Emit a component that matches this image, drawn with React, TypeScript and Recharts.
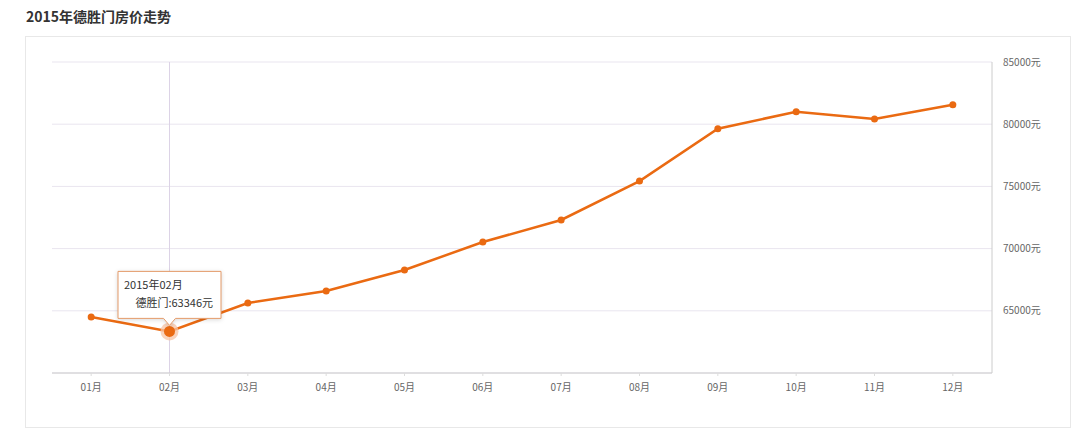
import { CartesianGrid, Line, LineChart, ReferenceLine, XAxis, YAxis } from "recharts";

const YEAR = "2015";
const AREA = "德胜门";
const months = ["01月", "02月", "03月", "04月", "05月", "06月", "07月", "08月", "09月", "10月", "11月", "12月"];
const prices = [64500, 63346, 65630, 66590, 68280, 70530, 72300, 75430, 79640, 81000, 80420, 81570];
const yTicks = [65000, 70000, 75000, 80000, 85000];
const yDomain = [60000, 85000];
const highlightMonth = "02月";

const ORANGE = "#ea6a12";
const FONT = '"Noto Sans CJK SC", "Open Sans", sans-serif';

const chartData = months.map((m, i) => ({ month: m, price: prices[i] }));

function PriceDot(props: any) {
  const { cx, cy, payload, index } = props;
  if (cx == null || cy == null) return null;
  if (payload.month !== highlightMonth) {
    return <circle key={`dot-${index}`} cx={cx} cy={cy} r={3.5} fill={ORANGE} />;
  }
  // tooltip box sits above the highlighted point
  const w = 103;
  const h = 47;
  const x0 = cx - w / 2;
  const x1 = cx + w / 2;
  const y1 = cy - 13;
  const y0 = y1 - h;
  const box = `M${x0},${y0} H${x1} V${y1} H${cx + 6} L${cx},${y1 + 7} L${cx - 6},${y1} H${x0} Z`;
  return (
    <g key={`dot-${index}`}>
      <circle cx={cx} cy={cy} r={9} fill="#f7c4a6" opacity={0.75} />
      <circle cx={cx} cy={cy} r={5.5} fill={ORANGE} />
      <path
        d={box}
        fill="#fff"
        stroke="#e49a68"
        strokeWidth={1}
        style={{ filter: "drop-shadow(0 1px 2px rgba(0,0,0,0.15))" }}
      />
      <text x={x0 + 6} y={y0 + 18} fontSize={11} fill="#333" fontFamily={FONT}>
        {`${YEAR}年${payload.month}`}
      </text>
      <text x={x1 - 8} y={y0 + 36} fontSize={11} fill="#333" fontFamily={FONT} textAnchor="end">
        {`${AREA}:${payload.price}元`}
      </text>
    </g>
  );
}

export default function App() {
  return (
    <div style={{ position: "absolute", left: 0, top: 0, width: 1080, height: 443, background: "#fff", fontFamily: FONT }}>
      <div style={{ position: "absolute", left: 26, top: 6, fontSize: 14, fontWeight: 700, color: "#333", lineHeight: "20px" }}>
        {`${YEAR}年${AREA}房价走势`}
      </div>
      <div
        style={{
          position: "absolute",
          left: 25,
          top: 36,
          width: 1044,
          height: 390,
          border: "1px solid #e8e8e8",
          background: "#fff",
        }}
      >
        <LineChart width={1044} height={390} data={chartData} margin={{ top: 25, right: 8, left: 26, bottom: 24 }}>
          <CartesianGrid vertical={false} stroke="#e9e5ef" />
          <XAxis
            dataKey="month"
            scale="band"
            tick={{ fontSize: 10, fill: "#666", fontFamily: FONT }}
            axisLine={{ stroke: "#ccc" }}
            tickLine={{ stroke: "#ddd" }}
            tickSize={3}
            tickMargin={8}
          />
          <YAxis
            orientation="right"
            domain={yDomain}
            ticks={yTicks}
            width={70}
            tick={{ fontSize: 10, fill: "#666", fontFamily: FONT }}
            tickFormatter={(v: number) => `${v}元`}
            axisLine={{ stroke: "#ccc" }}
            tickLine={false}
            tickMargin={5}
          />
          <ReferenceLine x={highlightMonth} stroke="#dcd3e6" strokeWidth={1} />
          <Line
            type="linear"
            dataKey="price"
            stroke={ORANGE}
            strokeWidth={2.5}
            dot={PriceDot}
            activeDot={false}
            isAnimationActive={false}
          />
        </LineChart>
      </div>
    </div>
  );
}
